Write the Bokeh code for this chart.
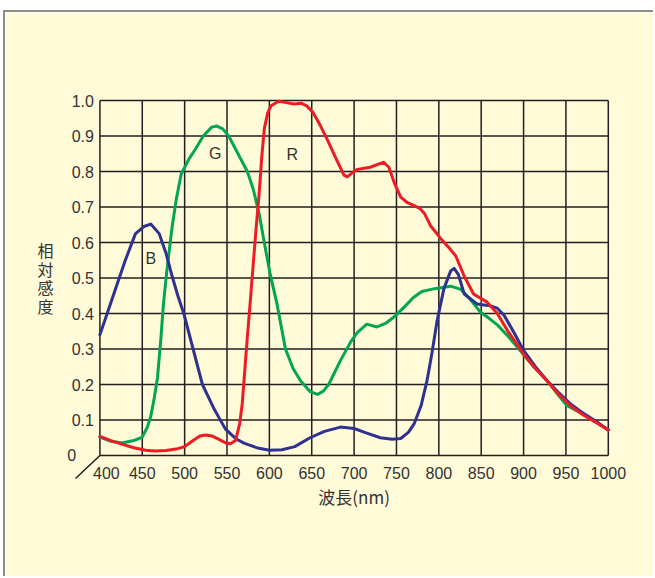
from bokeh.plotting import figure
from bokeh.models import Range1d
from bokeh.core.properties import value
from bokeh.embed import file_html
from bokeh.resources import INLINE

# ---- data ----
x_ticks = [400, 450, 500, 550, 600, 650, 700, 750, 800, 850, 900, 950, 1000]
x_tick_labels = ["400", "450", "500", "550", "600", "650", "700", "750", "800", "850", "900", "950", "1000"]
y_ticks = [0, 0.1, 0.2, 0.3, 0.4, 0.5, 0.6, 0.7, 0.8, 0.9, 1.0]
y_tick_labels = ["0", "0.1", "0.2", "0.3", "0.4", "0.5", "0.6", "0.7", "0.8", "0.9", "1.0"]

b_x = [400, 410, 420, 430, 442, 452, 460, 470, 478, 485, 492, 499, 510, 521, 535, 548, 560, 570,
       585, 600, 615, 630, 648, 665, 684, 700, 715, 731, 745, 755, 764, 771, 779, 786, 792, 798,
       806, 814, 818, 823, 830, 845, 860, 869, 877, 889, 900, 914, 928, 941, 955, 970, 985, 1000]
b_y = [0.34, 0.41, 0.48, 0.55, 0.625, 0.645, 0.652, 0.625, 0.57, 0.507, 0.45, 0.40, 0.30, 0.20,
       0.13, 0.075, 0.048, 0.035, 0.022, 0.015, 0.016, 0.025, 0.05, 0.068, 0.08, 0.076, 0.063,
       0.05, 0.046, 0.048, 0.065, 0.09, 0.14, 0.21, 0.29, 0.38, 0.47, 0.52, 0.527, 0.51, 0.455,
       0.427, 0.422, 0.415, 0.395, 0.345, 0.296, 0.25, 0.21, 0.178, 0.146, 0.12, 0.097, 0.072]

g_x = [400, 413, 426, 440, 450, 456, 460, 464, 468, 472, 475, 479, 485, 490, 496, 505, 513, 522,
       532, 538, 545, 552, 563, 574, 581, 588, 594, 601, 609, 619, 628, 637, 648, 657, 664, 670,
       684, 696, 704, 715, 727, 737, 747, 760, 770, 780, 795, 814, 826, 837, 849, 860, 869, 882,
       896, 912, 928, 941, 951, 962, 972, 985, 1000]
g_y = [0.052, 0.04, 0.035, 0.042, 0.052, 0.08, 0.11, 0.16, 0.22, 0.33, 0.427, 0.52, 0.64, 0.72,
       0.793, 0.835, 0.864, 0.90, 0.925, 0.928, 0.92, 0.90, 0.85, 0.80, 0.75, 0.68, 0.60, 0.51,
       0.427, 0.30, 0.245, 0.21, 0.18, 0.172, 0.182, 0.20, 0.268, 0.32, 0.347, 0.37, 0.362,
       0.372, 0.39, 0.42, 0.445, 0.462, 0.47, 0.477, 0.468, 0.44, 0.404, 0.385, 0.368, 0.335,
       0.296, 0.25, 0.21, 0.17, 0.141, 0.127, 0.115, 0.095, 0.072]

r_x = [400, 413, 426, 440, 454, 465, 478, 490, 500, 510, 518, 525, 532, 540, 548, 554, 560, 565,
       568, 571, 574, 577, 580, 584, 588, 591, 594, 598, 602, 611, 620, 629, 638, 644, 651, 660,
       668, 678, 688, 692, 697, 704, 719, 728, 735, 741, 748, 755, 763, 771, 778, 783, 790, 804,
       812, 820, 830, 841, 857, 869, 881, 900, 914, 928, 941, 955, 970, 985, 1000]
r_y = [0.054, 0.042, 0.032, 0.022, 0.015, 0.013, 0.014, 0.018, 0.025, 0.042, 0.055, 0.058,
       0.055, 0.046, 0.036, 0.033, 0.042, 0.09, 0.146, 0.24, 0.333, 0.42, 0.51, 0.63, 0.74, 0.84,
       0.92, 0.965, 0.985, 0.998, 0.994, 0.99, 0.992, 0.985, 0.968, 0.93, 0.892, 0.84, 0.79,
       0.785, 0.795, 0.806, 0.812, 0.82, 0.826, 0.812, 0.765, 0.728, 0.712, 0.704, 0.695, 0.682,
       0.648, 0.606, 0.585, 0.562, 0.505, 0.455, 0.432, 0.40, 0.352, 0.286, 0.245, 0.21, 0.173,
       0.141, 0.115, 0.094, 0.072]

curve_names = ["B", "G", "R"]
curve_label_x = [460, 536, 627]
curve_label_y = [0.556, 0.851, 0.847]

x_title = "波長(nm)"
y_title = "相\n対\n感\n度"

# ---- styles ----
BG = "#FFFAD7"
INK = "#231F20"
TXT = "#333333"
FONT = "Liberation Sans"
CJK = "Noto Sans CJK JP"

X0, X1 = x_ticks[0], x_ticks[-1]
Y0, Y1 = y_ticks[0], y_ticks[-1]

# the frame fills the whole canvas so that the labels and the corner stroke can be drawn
p = figure(width=650, height=566, output_backend="svg", toolbar_location=None, title=None,
           x_axis_location=None, y_axis_location=None,
           x_range=Range1d(288.59, 1055.71), y_range=Range1d(-0.34648, 1.24789), min_border=0)
p.styles = {"margin-left": "3px", "margin-top": "10px",
            "border-left": "2px solid #8E8E8E", "border-top": "2px solid #8E8E8E"}
p.background_fill_color = BG
p.border_fill_color = BG
p.outline_line_color = None
p.grid.visible = False

# grid (including the box edges)
p.segment(x0=x_ticks, y0=Y0, x1=x_ticks, y1=Y1, line_color=INK, line_width=1.5)
p.segment(x0=X0, y0=y_ticks, x1=X1, y1=y_ticks, line_color=INK, line_width=1.5)
# corner stroke
p.segment(x0=X0, y0=Y0, x1=X0 - 28.8, y1=Y0 - 0.065, line_color=INK, line_width=1.5)

# curves
for xs, ys, col in ((g_x, g_y, "#00A651"), (b_x, b_y, "#2E3192"), (r_x, r_y, "#ED1C24")):
    p.line(xs, ys, line_color=col, line_width=3, line_join="round", line_cap="round")

tick_style = dict(text_font=value(FONT), text_font_size="16px", text_color=TXT,
                  text_baseline="middle")
# x tick labels
p.text(x=x_ticks[1:], y=Y0, text=x_tick_labels[1:], y_offset=17.5, text_align="center", **tick_style)
p.text(x=x_ticks[:1], y=Y0, text=x_tick_labels[:1], x_offset=6.5, y_offset=17.5,
       text_align="center", **tick_style)
# y tick labels
p.text(x=X0, y=y_ticks[1:], text=y_tick_labels[1:], x_offset=-6, text_align="right", **tick_style)
p.text(x=X0, y=y_ticks[:1], text=y_tick_labels[:1], x_offset=-32.7, text_align="left", **tick_style)

# curve names
p.text(x=curve_label_x, y=curve_label_y, text=curve_names, text_align="center", **tick_style)

# axis titles
p.text(x=[(X0 + X1) / 2], y=Y0, text=[x_title], y_offset=41, text_align="center",
       text_baseline="middle", text_font=value(CJK), text_font_size="17px", text_color=TXT)
p.text(x=X0, y=[(Y0 + Y1) / 2], text=[y_title], x_offset=-54.4, text_align="center",
       text_baseline="middle", text_font=value(CJK), text_font_size="16px",
       text_line_height=0.79, text_color=TXT)

open("out.html", "w").write(file_html(p, INLINE))
